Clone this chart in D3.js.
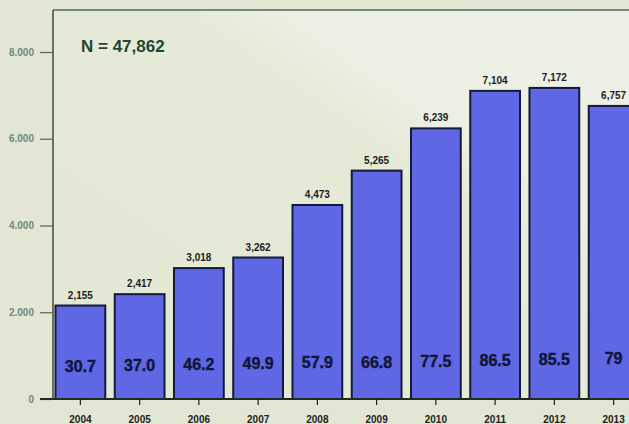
<!DOCTYPE html>
<html><head><meta charset="utf-8">
<script src="https://cdn.jsdelivr.net/npm/d3@7/dist/d3.min.js"></script>
<style>html,body{margin:0;padding:0;background:#e3e8d5;overflow:hidden}</style>
</head><body>
<svg id="c" width="629" height="424"></svg>
<script>
const years = ["2004","2005","2006","2007","2008","2009","2010","2011","2012","2013"];
const counts = [2155,2417,3018,3262,4473,5265,6239,7104,7172,6757];
const countLabels = ["2,155","2,417","3,018","3,262","4,473","5,265","6,239","7,104","7,172","6,757"];
const innerLabels = ["30.7","37.0","46.2","49.9","57.9","66.8","77.5","86.5","85.5","79"];
const yTicks = [0,2000,4000,6000,8000];
const yTickLabels = ["0","2.000","4.000","6.000","8.000"];
const totalLabel = "N = 47,862";

(function(){
const svg = d3.select("#c");
const W = 629, H = 424;
const mLeft = 53, mTop = 10, mBottom = 399;

const defs = svg.append("defs");
const g1 = defs.append("linearGradient").attr("id","bg").attr("x1","0").attr("y1","1").attr("x2","1").attr("y2","0");
g1.append("stop").attr("offset","0").attr("stop-color","#e2e7d3");
g1.append("stop").attr("offset","0.62").attr("stop-color","#e6ebd8");
g1.append("stop").attr("offset","0.7").attr("stop-color","#edf0e4");
g1.append("stop").attr("offset","1").attr("stop-color","#eef0e8");

svg.append("rect").attr("x",0).attr("y",0).attr("width",W).attr("height",H).attr("fill","#e2e6d3");
svg.append("rect").attr("x",mLeft).attr("y",mTop).attr("width",W-mLeft).attr("height",mBottom-mTop).attr("fill","url(#bg)");

const x = d3.scaleBand().domain(years).range([55.5, 638.5]).paddingInner(0.16).paddingOuter(0);
const y = d3.scaleLinear().domain([0,8000]).range([mBottom, 52]);

// frame
svg.append("line").attr("x1",mLeft).attr("x2",W).attr("y1",mTop).attr("y2",mTop).attr("stroke","#4f6a55").attr("stroke-width",1.5);
svg.append("line").attr("x1",mLeft).attr("x2",mLeft).attr("y1",mTop).attr("y2",mBottom).attr("stroke","#3c4a40").attr("stroke-width",1.5);

// y axis
const yAxis = d3.axisLeft(y).tickValues(yTicks).tickSize(13).tickPadding(6).tickFormat((d,i)=>yTickLabels[i]);
const ya = svg.append("g").attr("transform",`translate(${mLeft},0)`).call(yAxis);
ya.select(".domain").remove();
ya.selectAll(".tick line").attr("stroke","#55645a").attr("stroke-width",1.2);
ya.selectAll(".tick text").attr("fill","#6f8a7a").attr("font-family","Liberation Sans, Arial, sans-serif").attr("font-weight","bold").attr("font-size","10px");

// bars
svg.append("g").selectAll("rect").data(years).join("rect")
  .attr("x",d=>x(d)).attr("width",x.bandwidth())
  .attr("y",(d,i)=>y(counts[i])).attr("height",(d,i)=>mBottom-y(counts[i]))
  .attr("fill","#5f67e4").attr("stroke","#141a3a").attr("stroke-width",2);

// baseline
svg.append("line").attr("x1",40).attr("x2",W).attr("y1",mBottom).attr("y2",mBottom).attr("stroke","#1e2a22").attr("stroke-width",2);

// x axis
const xAxis = d3.axisBottom(x).tickSize(6).tickPadding(11);
const xa = svg.append("g").attr("transform",`translate(0,${mBottom})`).call(xAxis);
xa.select(".domain").remove();
xa.selectAll(".tick line").attr("stroke","#222").attr("stroke-width",1.2);
xa.selectAll(".tick text").attr("fill","#1e1e1e").attr("font-family","Liberation Sans, Arial, sans-serif").attr("font-weight","bold").attr("font-size","10px");

// count labels
svg.append("g").selectAll("text").data(years).join("text")
  .attr("x",d=>x(d)+x.bandwidth()/2).attr("y",(d,i)=>y(counts[i])-7)
  .attr("text-anchor","middle").attr("font-family","Liberation Sans, Arial, sans-serif")
  .attr("font-weight","bold").attr("font-size","10px").attr("fill","#1c1c1c")
  .text((d,i)=>countLabels[i]);

// inner labels
svg.append("g").selectAll("text").data(years).join("text")
  .attr("x",d=>x(d)+x.bandwidth()/2).attr("y",(d,i)=>372 - i*0.9)
  .attr("text-anchor","middle").attr("font-family","Liberation Sans, Arial, sans-serif")
  .attr("font-weight","bold").attr("font-size","16px").attr("fill","#10163a")
  .attr("stroke","#10163a").attr("stroke-width",0.4)
  .text((d,i)=>innerLabels[i]);

svg.append("text").attr("x",81).attr("y",52).attr("font-family","Liberation Sans, Arial, sans-serif")
  .attr("font-weight","bold").attr("font-size","17px").attr("fill","#1f4630").text(totalLabel);
})();
</script>
</body></html>
